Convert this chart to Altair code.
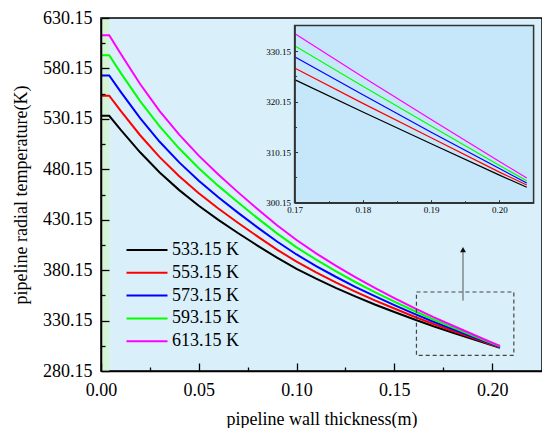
import altair as alt
import pandas as pd

# ---------------- data ----------------
thickness = [0.0, 0.0042, 0.01, 0.02, 0.03, 0.04, 0.05, 0.06, 0.07, 0.08, 0.09, 0.10,
             0.11, 0.12, 0.13, 0.14, 0.15, 0.16, 0.17, 0.18, 0.19, 0.20, 0.204]
t533 = [533.15, 533.15, 519.5, 497.0, 477.0, 459.5, 444.0, 430.0, 417.0, 404.5, 392.5, 381.5,
        371.7, 362.6, 354.1, 346.1, 338.6, 331.4, 324.5, 318.1, 311.8, 305.6, 303.2]
t553 = [553.15, 553.15, 538.3, 513.9, 492.2, 473.2, 456.4, 441.2, 427.1, 413.6, 400.5, 388.6,
        378.0, 368.1, 358.9, 350.2, 342.1, 334.2, 326.8, 319.8, 313.0, 306.2, 303.65]
t573 = [573.15, 573.15, 557.2, 530.9, 507.4, 487.0, 468.8, 452.4, 437.2, 422.6, 408.5, 395.7,
        384.2, 373.6, 363.6, 354.3, 345.5, 337.0, 329.0, 321.5, 314.1, 306.9, 304.05]
t593 = [593.15, 593.15, 576.0, 547.8, 522.7, 500.7, 481.2, 463.7, 447.4, 431.7, 416.6, 402.8,
        390.5, 379.1, 368.4, 358.4, 348.9, 339.9, 331.2, 323.2, 315.3, 307.5, 304.5]
t613 = [613.15, 613.15, 594.9, 564.7, 537.9, 514.5, 493.7, 474.9, 457.5, 440.8, 424.7, 410.0,
        396.8, 384.6, 373.3, 362.5, 352.5, 342.8, 333.6, 325.0, 316.6, 308.3, 305.05]

series_names = ["533.15 K", "553.15 K", "573.15 K", "593.15 K", "613.15 K"]
series_colors = ["#000000", "#ff0000", "#0000ff", "#00ff00", "#ff00ff"]
series_values = [t533, t553, t573, t593, t613]

liner_x = [0.0, 0.0042]                 # green inner layer strip
main_x_domain = [0.0, 0.2255]
main_y_domain = [280.15, 630.15]
x_major = [0.0, 0.05, 0.10, 0.15, 0.20]
x_minor = [0.025, 0.075, 0.125, 0.175]
y_major = [280.15, 330.15, 380.15, 430.15, 480.15, 530.15, 580.15, 630.15]
y_minor = [305.15, 355.15, 405.15, 455.15, 505.15, 555.15, 605.15]

inset_x_domain = [0.17, 0.205]
inset_y_domain = [300.15, 335.2]
inset_x_major = [0.17, 0.18, 0.19, 0.20]
inset_x_minor = [0.175, 0.185, 0.195]
inset_y_major = [300.15, 310.15, 320.15, 330.15]
inset_y_minor = [305.15, 315.15, 325.15]

zoom_box_x = [0.1613, 0.2111]
zoom_box_y = [295.6, 358.5]
arrow_x = [0.1851]
arrow_y = [349.9, 399.5]
arrow_head_y = [400.5]

# ---------------- layout ----------------
W, H = 441, 353
TOP = 10
INSET_X_RANGE = [193.6, 432.6]
INSET_Y_RANGE = [184.7, 7.5]
FONT = "Liberation Serif"

rows = []
for name, vals in zip(series_names, series_values):
    for x, t in zip(thickness, vals):
        rows.append({"x": x, "T": t, "series": name})
df = pd.DataFrame(rows)
df_inset = df[df["x"] >= 0.17]

xs = alt.Scale(domain=main_x_domain, nice=False, zero=False)
ys = alt.Scale(domain=main_y_domain, nice=False, zero=False)
color_scale = alt.Scale(domain=series_names, range=series_colors)

common_axis = dict(labelFont=FONT, labelColor="black", titleFont=FONT, titleColor="black",
                   titleFontWeight="normal", tickColor="black", domainColor="black",
                   grid=False, labelFlush=False, labelOverlap=False, zindex=1)

x_major_axis = alt.Axis(values=x_major, format=".2f", orient="bottom",
                        title="pipeline wall thickness(m)", labelFontSize=18, titleFontSize=18,
                        labelPadding=18, titlePadding=11, tickSize={"expr": "-8"}, tickWidth=1.3,
                        domainWidth=1.5, **common_axis)
x_minor_axis = alt.Axis(values=x_minor, orient="bottom", labels=False, domain=False, title=None,
                        tickSize={"expr": "-4"}, tickWidth=1.3, **common_axis)
y_major_axis = alt.Axis(values=y_major, format=".2f", orient="left",
                        title="pipeline radial temperature(K)", labelFontSize=18, titleFontSize=18,
                        labelPadding=17, titlePadding=12, tickSize={"expr": "-8"}, tickWidth=1.3,
                        domainWidth=1.5, **common_axis)
y_minor_axis = alt.Axis(values=y_minor, orient="left", labels=False, domain=False, title=None,
                        tickSize={"expr": "-4"}, tickWidth=1.3, **common_axis)

strip_df = pd.DataFrame({"x0": [liner_x[0]], "x1": [liner_x[1]],
                         "y0": [main_y_domain[0]], "y1": [main_y_domain[1]]})
strip = alt.Chart(strip_df).mark_rect(color="#d5f4d6").encode(
    x=alt.X("x0:Q", scale=xs, axis=x_minor_axis),
    x2="x1:Q",
    y=alt.Y("y0:Q", scale=ys, axis=y_minor_axis),
    y2="y1:Q",
)

lines = alt.Chart(df).mark_line(strokeWidth=2).encode(
    x=alt.X("x:Q", scale=xs, axis=x_major_axis),
    y=alt.Y("T:Q", scale=ys, axis=y_major_axis),
    color=alt.Color("series:N", scale=color_scale, legend=alt.Legend(
        orient="none", legendX=37, legendY=223, title=None, padding=0,
        symbolType="M-4,0H4", symbolSize=105, symbolStrokeWidth=2,
        labelFont=FONT, labelFontSize=18, labelColor="black", labelOffset=16,
        rowPadding=4.8)),
)

box_df = pd.DataFrame({"x0": [zoom_box_x[0]], "x1": [zoom_box_x[1]],
                       "y0": [zoom_box_y[0]], "y1": [zoom_box_y[1]]})
box = alt.Chart(box_df).mark_rect(fillOpacity=0, stroke="#444444", strokeWidth=1.2,
                                  strokeDash=[4, 3]).encode(
    x=alt.X("x0:Q", scale=xs, axis=None), x2="x1:Q",
    y=alt.Y("y0:Q", scale=ys, axis=None), y2="y1:Q",
)

arrow_df = pd.DataFrame({"x": arrow_x, "y0": [arrow_y[0]], "y1": [arrow_y[1]]})
arrow_line = alt.Chart(arrow_df).mark_rule(color="#555555", strokeWidth=1).encode(
    x=alt.X("x:Q", scale=xs, axis=None),
    y=alt.Y("y0:Q", scale=ys, axis=None), y2="y1:Q",
)
head_df = pd.DataFrame({"x": arrow_x, "y": arrow_head_y})
arrow_head = alt.Chart(head_df).mark_point(shape="triangle-up", filled=True, size=35,
                                           color="#111111", opacity=1).encode(
    x=alt.X("x:Q", scale=xs, axis=None),
    y=alt.Y("y:Q", scale=ys, axis=None),
)

main = alt.layer(strip, lines, box, arrow_line, arrow_head).resolve_axis(x="independent", y="independent")

# ---------------- inset ----------------
ixs = alt.Scale(domain=inset_x_domain, range=INSET_X_RANGE, nice=False, zero=False)
iys = alt.Scale(domain=inset_y_domain, range=INSET_Y_RANGE, nice=False, zero=False)
inset_common = dict(common_axis)
inset_common.update(domainColor="#333333", tickColor="#333333")

ix_major_axis = alt.Axis(values=inset_x_major, format=".2f", orient="bottom", title=None,
                         labelFontSize=9, labelPadding=6, tickSize={"expr": "-3"}, tickWidth=1,
                         domainWidth=1.5, offset=-(H - INSET_Y_RANGE[0]), **inset_common)
ix_minor_axis = alt.Axis(values=inset_x_minor, orient="bottom", title=None, labels=False, domain=False,
                         tickSize={"expr": "-2"}, tickWidth=1, offset=-(H - INSET_Y_RANGE[0]),
                         **inset_common)
iy_major_axis = alt.Axis(values=inset_y_major, format=".2f", orient="left", title=None,
                         labelFontSize=9, labelPadding=7, tickSize={"expr": "-3"}, tickWidth=1,
                         domainWidth=1.5, offset=-INSET_X_RANGE[0], **inset_common)
iy_minor_axis = alt.Axis(values=inset_y_minor, orient="left", title=None, labels=False, domain=False,
                         tickSize={"expr": "-2"}, tickWidth=1, offset=-INSET_X_RANGE[0],
                         **inset_common)

ibg_df = pd.DataFrame({"x0": [inset_x_domain[0]], "x1": [inset_x_domain[1]],
                       "y0": [inset_y_domain[0]], "y1": [inset_y_domain[1]]})
inset_bg = alt.Chart(ibg_df).mark_rect(fill="#c6e7f9", stroke="#333333", strokeWidth=1.5).encode(
    x=alt.X("x0:Q", scale=ixs, axis=ix_minor_axis), x2="x1:Q",
    y=alt.Y("y0:Q", scale=iys, axis=iy_minor_axis), y2="y1:Q",
)
inset_lines = alt.Chart(df_inset).mark_line(strokeWidth=1.2).encode(
    x=alt.X("x:Q", scale=ixs, axis=ix_major_axis),
    y=alt.Y("T:Q", scale=iys, axis=iy_major_axis),
    color=alt.Color("series:N", scale=color_scale, legend=None),
)
inset = alt.layer(inset_bg, inset_lines).resolve_axis(x="independent", y="independent")

chart = alt.layer(main, inset).resolve_scale(x="independent", y="independent").properties(
    width=W, height=H,
    autosize=alt.AutoSizeParams(type="none"),
    padding={"left": 93, "top": TOP, "right": 0, "bottom": 57},
    background="white",
).configure_view(fill="#d9f0fb", stroke="black", strokeWidth=1.5)

chart.save("out.html", embed_options={"renderer": "svg", "actions": False})
